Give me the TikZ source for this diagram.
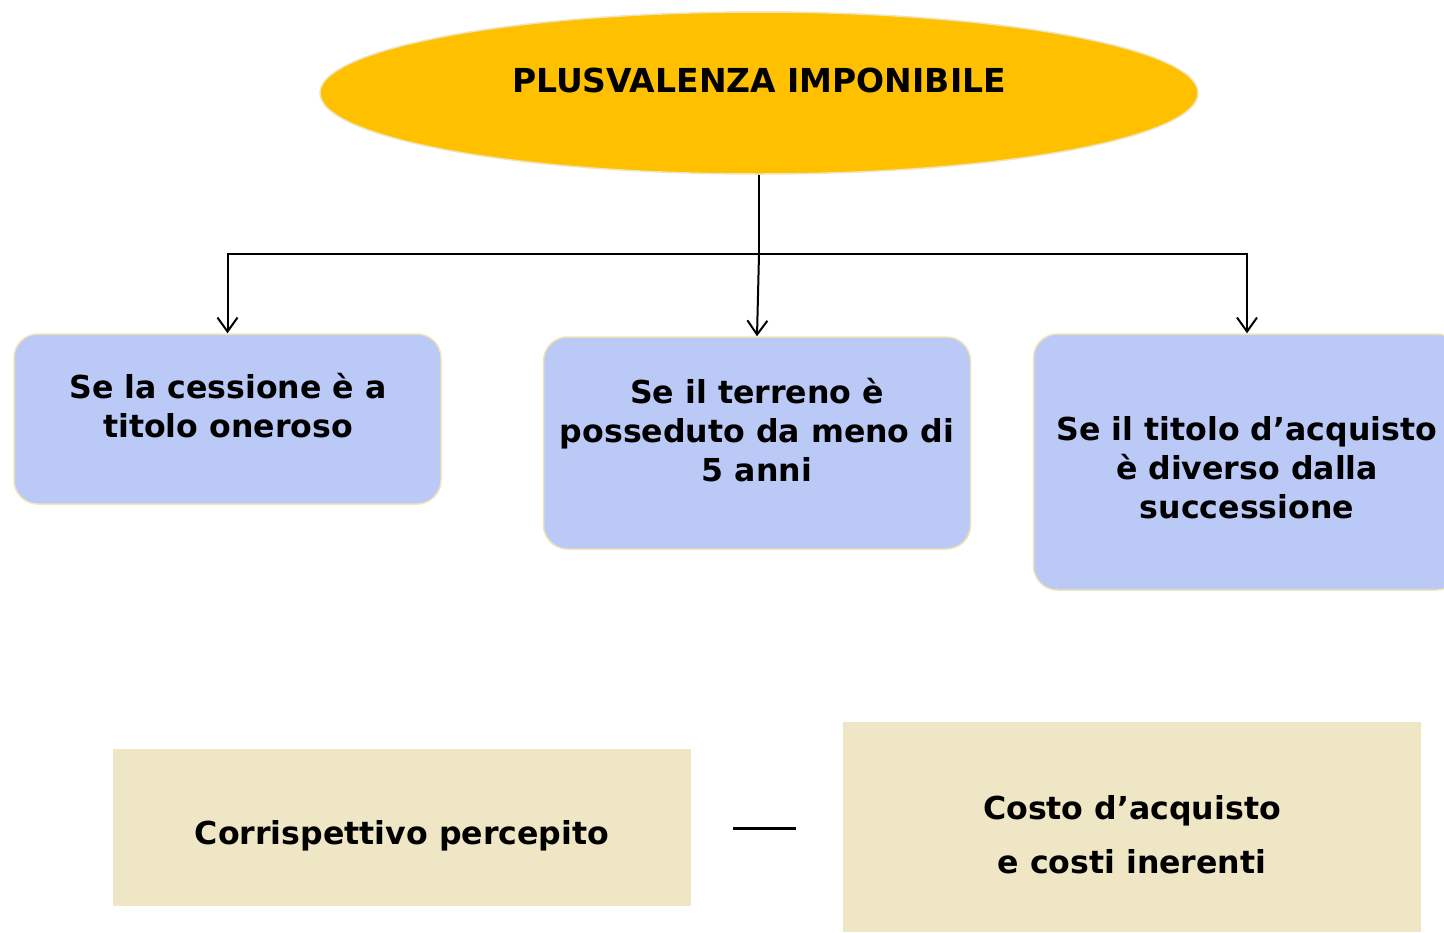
\documentclass[tikz,border=0pt]{standalone}
\usepackage{fontspec}
\setmainfont{DejaVu Sans}
\usetikzlibrary{shapes.geometric,arrows.meta}
\definecolor{gold}{HTML}{FFC000}
\definecolor{peri}{HTML}{BAC9F6}
\definecolor{creamline}{HTML}{EFE3B8}
\definecolor{cream}{HTML}{EEE6C5}
\begin{document}
\begin{tikzpicture}[x=0.5pt,y=-0.5pt,
  bluebox/.style={draw=creamline, line width=0.75pt, fill=peri, rounded corners=12pt, minimum width=213.5pt, inner sep=0pt},
  creambox/.style={fill=cream, draw=none, minimum width=289pt, inner sep=0pt},
  txt/.style={font=\fontsize{15.8}{19.5}\selectfont\bfseries, align=center, inner sep=0pt},
  conn/.style={line width=1pt, draw=black},
  arr/.style={conn, -{Straight Barb[length=7pt,width=10pt]}}]
\useasboundingbox (0,0) rectangle (1444,932);
% top ellipse
\node[ellipse, draw=creamline, fill=gold, minimum width=439pt, minimum height=81pt, line width=0.75pt] (ell) at (759,93) {};
\node[txt, font=\fontsize{16.5}{19.5}\selectfont\bfseries] (t0) at (759,80) {PLUSVALENZA IMPONIBILE};
% blue boxes
\node[bluebox, minimum height=85pt] (b1) at (227.5,419) {};
\node[txt] (t1) at (228,406) {Se la cessione è a\\titolo oneroso};
\node[bluebox, minimum height=106pt] (b2) at (757,443) {};
\node[txt] (t2) at (757,430) {Se il terreno è\\posseduto da meno di\\5 anni};
\node[bluebox, minimum height=128pt] (b3) at (1247,462) {};
\node[txt] (t3) at (1247,468) {Se il titolo d’acquisto\\è diverso dalla\\successione};
% connectors
\coordinate (j) at (759,254);
\draw[conn] (ell.south) -- (j);
\draw[arr] (j) -| (b1.north);
\draw[arr] (j) -- (b2.north);
\draw[arr] (j) -| (b3.north);
% bottom boxes
\node[creambox, minimum height=78.5pt] (c1) at (402,827.5) {};
\node[txt] (t4) at (402,836) {Corrispettivo percepito};
\node[creambox, minimum height=105pt] (c2) at (1132,827) {};
\node[txt, font=\fontsize{15.8}{27}\selectfont\bfseries] (t5) at (1132,835) {Costo d’acquisto\\e costi inerenti};
\coordinate (m1) at (733,828);
\coordinate (m2) at (796,828);
\draw[line width=1.5pt] (m1) -- (m2);
\end{tikzpicture}
\end{document}
